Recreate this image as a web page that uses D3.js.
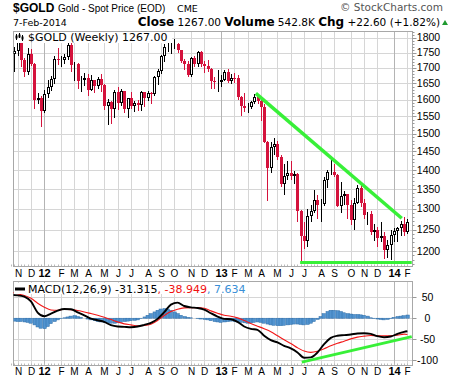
<!DOCTYPE html>
<html>
<head>
<meta charset="utf-8">
<script src="https://cdn.jsdelivr.net/npm/d3@7/dist/d3.min.js"></script>
<style>
  body { margin: 0; background: #fff; }
  svg { display: block; }
</style>
</head>
<body>
<div id="chart"></div>
<script>
// one bar per week, keyed by the Monday of the week
var weekStart = d3.timeMonday.range(new Date(2011, 9, 24), new Date(2014, 1, 4));

var opens = [
  1642,1744,1754,1788,1725,1685,1746,1712,1598,1606,
  1565,1617,1640,1664,1728,1725,1725,1735,1775,1710,
  1711,1658,1662,1668,1631,1660,1643,1663,1645,1580,
  1592,1573,1622,1590,1626,1572,1604,1580,1590,1583,
  1622,1604,1620,1616,1670,1690,1740,1768,1773,1776,
  1780,1757,1723,1711,1676,1731,1713,1751,1711,1705,
  1696,1657,1656,1656,1662,1687,1659,1668,1667,1609,
  1581,1576,1578,1592,1608,1597,1579,1476,1404,1461,
  1470,1435,1363,1385,1393,1383,1388,1296,1234,1222,
  1283,1295,1321,1310,1313,1373,1395,1395,1386,1308,
  1332,1337,1310,1272,1315,1352,1314,1286,1288,1243,
  1250,1230,1235,1203,1213,1237,1247,1254,1264,1244.4
];
var highs = [
  1760,1770,1802,1795,1731,1764,1762,1715,1620,1612,
  1630,1660,1675,1740,1764,1740,1745,1781,1792,1718,
  1716,1674,1684,1680,1678,1660,1669,1680,1648,1601,
  1595,1630,1640,1632,1626,1606,1625,1597,1598,1627,
  1623,1626,1625,1675,1695,1742,1777,1788,1781,1796,
  1782,1757,1727,1723,1735,1738,1755,1754,1723,1724,
  1699,1670,1694,1678,1694,1695,1680,1684,1676,1612,
  1619,1589,1597,1616,1614,1598,1588,1480,1476,1488,
  1478,1440,1415,1424,1424,1397,1392,1298,1267,1299,
  1310,1348,1334,1324,1380,1400,1434,1415,1388,1368,
  1345,1337,1323,1326,1361,1362,1324,1293,1294,1262,
  1256,1267,1244,1225,1248,1254,1256,1270,1280,1275
];
var lows = [
  1625,1690,1741,1705,1675,1680,1708,1575,1590,1523,
  1564,1607,1630,1652,1712,1707,1714,1730,1688,1662,
  1635,1627,1645,1613,1629,1625,1636,1628,1573,1527,
  1532,1547,1572,1585,1564,1548,1575,1565,1569,1570,
  1582,1598,1590,1614,1648,1684,1722,1756,1750,1765,
  1752,1718,1697,1673,1674,1705,1706,1705,1685,1690,
  1636,1636,1626,1643,1661,1654,1653,1655,1603,1555,
  1565,1562,1575,1590,1591,1539,1476,1321,1395,1444,
  1430,1359,1338,1375,1377,1365,1270,1180,1207,1211,
  1270,1292,1278,1270,1309,1355,1390,1385,1308,1292,
  1312,1277,1262,1251,1314,1306,1277,1262,1240,1226,
  1211,1224,1185,1187,1182,1222,1224,1236,1238,1241
];
var closes = [
  1744,1754,1788,1725,1685,1746,1712,1598,1606,1565,
  1617,1640,1664,1728,1725,1725,1735,1775,1710,1711,
  1658,1662,1668,1631,1660,1643,1663,1645,1580,1592,
  1573,1622,1590,1626,1572,1604,1580,1590,1583,1622,
  1604,1620,1616,1670,1690,1740,1768,1773,1776,1780,
  1757,1723,1711,1676,1731,1713,1751,1711,1705,1696,
  1657,1656,1656,1662,1687,1659,1668,1667,1609,1581,
  1576,1578,1592,1608,1597,1579,1476,1404,1461,1470,
  1435,1363,1385,1393,1383,1388,1296,1234,1222,1283,
  1295,1321,1310,1313,1373,1395,1395,1386,1308,1332,
  1337,1310,1272,1315,1352,1314,1286,1288,1243,1250,
  1230,1235,1203,1213,1237,1247,1254,1264,1244.4,1267
];

// MACD(12,26,9), lines read every second week
var macdWeek = d3.range(0, 120, 2).concat([119]);
var macdLine = [
  55.5,54.7,51.5,40,13.4,4.7,11,18.1,22.1,21.3,
  14.2,7,-0.8,-4.8,-8.8,-16.8,-20,-20.7,-21.5,-20,
  -16,-11.2,-1.6,14.3,32.5,37.3,29.2,26,24.5,20.6,
  11.8,4,-1.6,-2.4,-8.7,-19.8,-25.4,-27.8,-42,-52.5,
  -58,-66,-72.4,-81.9,-94.6,-93.8,-82,-62,-47,-42,
  -40.5,-39,-36.7,-35.9,-37.5,-43,-45.4,-43.8,-37.5,-32.7,
  -31.315
];
var signalLine = [
  62.6,58,54.3,47.6,35.7,26.2,19.8,19,21.4,20.6,
  18.3,15,11.1,7.1,2.3,-3.2,-8.8,-13.5,-15.9,-18.3,
  -17.5,-14.3,-5.6,6.3,15.9,21.4,24.6,25.4,25.4,23.8,
  17.5,11.9,7.1,4.8,0.8,-5.6,-12.7,-19,-25.4,-32.5,
  -42,-51.6,-60.3,-70.6,-78.6,-81.7,-79,-73,-66,-60,
  -55,-49.5,-45.2,-42.9,-41.3,-42.1,-42.1,-42.1,-40.5,-38.1,
  -38.949
];
// histogram, every week
var histogram = [
  -6,-7,-8,-8,-9,-10,-12,-16,-21,-24,
  -25,-20,-13,-8,-4,-1,1,3,5,6,
  4,2,0,-2,-4,-6,-8,-9,-10,-11,
  -12,-12,-11,-10,-8,-7,-6,-5,-4,-1,
  3,7,11,15,19,22,23,22,19,15,
  11,7,4,2,1,0,-1,-2,-3,-4,
  -6,-8,-9,-10,-9,-8,-7,-8,-9,-10,
  -11,-12,-11,-10,-9,-10,-12,-14,-16,-17,
  -18,-18,-17,-16,-15,-14,-14,-15,-16,-15,
  -12,-8,-3,4,11,16,19,19,18,16,
  13,11,10,9,9,8,7,5,1,-1,
  -2,-3,-4,-3,-1,2,4,5,6,7.634
];

var priceTicks = [1200,1250,1300,1350,1400,1450,1500,1550,1600,1650,1700,1750,1800];
var macdTicks = [50, 0, -50, -100];
var monthLetters = ["J","F","M","A","M","J","J","A","S","O","N","D"];

// hand drawn trend lines: [week index, value]
var resistance = [[73.5, 1619], [117.3, 1277]];
var support = [[86.8, 1174], [120.3, 1174]];
var macdTrend = [[87.3, -105], [120.3, -44]];

var W = 456, H = 381;
var pL = 13.5, pR = 412.5, pT = 31.5, pB = 266.5;
var mT = 281.5, mB = 365.5;
var red = "#d4123c", green = "#38f038";
var sans = "'Liberation Sans', Arial, sans-serif";
var verd = "'DejaVu Sans', Verdana, sans-serif";

var svg = d3.select("#chart").append("svg").attr("width", W).attr("height", H);
svg.append("rect").attr("width", W).attr("height", H).attr("fill", "#fff");

var x = d3.scaleLinear().domain([0, weekStart.length - 1]).range([11, 407.4]);
var y = d3.scaleLog().domain([1200, 1800]).range([251, 37.7]);
var ym = d3.scaleLinear().domain([-100, 50]).range([360, 297.3]);
var px = function(v){ return Math.round(v) + 0.5; };

var defs = svg.append("defs");
defs.append("clipPath").attr("id", "clipP").append("rect")
  .attr("x", pL).attr("y", pT).attr("width", pR - pL).attr("height", pB - pT);
defs.append("clipPath").attr("id", "clipM").append("rect")
  .attr("x", pL).attr("y", mT).attr("width", pR - pL).attr("height", mB - mT);

// first bar of every month
var monthIdx = [];
weekStart.forEach(function(d, i){
  if (i > 0 && d.getMonth() !== weekStart[i - 1].getMonth()) monthIdx.push(i);
});

// grids
function grid(top, bottom, yScale, ticks){
  var g = svg.append("g");
  g.selectAll(".h").data(ticks).enter().append("line")
    .attr("x1", pL).attr("x2", pR)
    .attr("y1", function(d){ return px(yScale(d)); })
    .attr("y2", function(d){ return px(yScale(d)); })
    .attr("stroke", "#d6d6d6");
  g.selectAll(".v").data(monthIdx).enter().append("line")
    .attr("x1", function(d){ return px(x(d)); })
    .attr("x2", function(d){ return px(x(d)); })
    .attr("y1", top).attr("y2", bottom)
    .attr("stroke", function(d){ return weekStart[d].getMonth() === 0 ? "#b4b4b4" : "#d6d6d6"; });
  // weekly ticks along the bottom
  g.selectAll(".t").data(d3.range(weekStart.length)).enter().append("line")
    .attr("x1", function(d){ return px(x(d)); })
    .attr("x2", function(d){ return px(x(d)); })
    .attr("y1", bottom - 2).attr("y2", bottom)
    .attr("stroke", "#bbb");
  g.append("rect").attr("x", pL).attr("y", top).attr("width", pR - pL).attr("height", bottom - top)
    .attr("fill", "none").attr("stroke", "#a8a8a8");
}
grid(pT, pB, y, priceTicks);
grid(mT, mB, ym, macdTicks);

// right axis ticks and labels
svg.append("g").selectAll("line").data(d3.range(1170, 1821, 10)).enter().append("line")
  .attr("x1", pR).attr("x2", function(d){ return d % 50 === 0 ? pR + 4 : pR + 2; })
  .attr("y1", function(d){ return px(y(d)); }).attr("y2", function(d){ return px(y(d)); })
  .attr("stroke", "#999");
svg.append("g").selectAll("text").data(priceTicks).enter().append("text")
  .attr("x", 428.5).attr("y", function(d){ return y(d) + 3.6; })
  .attr("text-anchor", "middle").attr("font-family", sans).attr("font-size", 10.5)
  .attr("fill", "#000").text(function(d){ return d; });
svg.append("g").selectAll("line").data(macdTicks).enter().append("line")
  .attr("x1", pR).attr("x2", pR + 4)
  .attr("y1", function(d){ return px(ym(d)); }).attr("y2", function(d){ return px(ym(d)); })
  .attr("stroke", "#999");
svg.append("g").selectAll("text").data(macdTicks).enter().append("text")
  .attr("x", 427.5).attr("y", function(d){ return ym(d) + 3.6; })
  .attr("text-anchor", "middle").attr("font-family", sans).attr("font-size", 10.5)
  .attr("fill", "#000").text(function(d){ return d; });

// month labels under both panels
[pB + 10, mB + 9].forEach(function(base){
  svg.append("g").selectAll("text").data(monthIdx).enter().append("text")
    .attr("x", function(d){ return px(x(d)); })
    .attr("y", base)
    .attr("text-anchor", "middle").attr("font-family", sans)
    .attr("font-size", function(d){ return weekStart[d].getMonth() === 0 ? 11 : 10; })
    .attr("font-weight", function(d){ return weekStart[d].getMonth() === 0 ? "bold" : "normal"; })
    .text(function(d){
      var dt = weekStart[d];
      return dt.getMonth() === 0 ? String(dt.getFullYear()).slice(2) : monthLetters[dt.getMonth()];
    });
});

// candles
var bars = d3.range(weekStart.length).map(function(i){
  return {i: i, o: opens[i], h: highs[i], l: lows[i], c: closes[i]};
});
var gc = svg.append("g").attr("clip-path", "url(#clipP)");
var candle = gc.selectAll(".candle").data(bars).enter().append("g").attr("class", "candle");
candle.append("line")
  .attr("x1", function(d){ return px(x(d.i)); })
  .attr("x2", function(d){ return px(x(d.i)); })
  .attr("y1", function(d){ return Math.round(y(d.h)); })
  .attr("y2", function(d){ return Math.round(y(d.l)) + 1; })
  .attr("stroke", function(d){ return d.c < d.o ? red : "#000"; });
candle.append("rect")
  .attr("x", function(d){ return d.c < d.o ? Math.round(x(d.i)) - 1 : Math.round(x(d.i)) - 0.5; })
  .attr("y", function(d){ var t = Math.round(y(Math.max(d.o, d.c))); return d.c < d.o ? t : t + 0.5; })
  .attr("width", function(d){ return d.c < d.o ? 3 : 2; })
  .attr("height", function(d){
    var h = Math.round(y(Math.min(d.o, d.c))) - Math.round(y(Math.max(d.o, d.c)));
    return d.c < d.o ? Math.max(1, h) : Math.max(0, h - 1);
  })
  .attr("fill", function(d){ return d.c < d.o ? red : "#fff"; })
  .attr("stroke", function(d){ return d.c < d.o ? "none" : "#000"; });

// trend lines on price
var priceLine = d3.line().x(function(d){ return x(d[0]); }).y(function(d){ return y(d[1]); });
svg.append("path").attr("d", priceLine(resistance)).attr("stroke", green).attr("stroke-width", 3.5).attr("fill", "none");
svg.append("path").attr("d", priceLine(support)).attr("stroke", green).attr("stroke-width", 3).attr("fill", "none");

// legend on price panel
svg.append("rect").attr("x", 14).attr("y", 32).attr("width", 158).attr("height", 11).attr("fill", "#fff");
var icon = svg.append("g");
[[16.5, 34, 40], [19.5, 33, 38], [22.5, 35, 41]].forEach(function(b){
  icon.append("line").attr("x1", b[0]).attr("x2", b[0]).attr("y1", b[1]).attr("y2", b[2]).attr("stroke", "#000");
  icon.append("rect").attr("x", b[0] - 1).attr("y", b[1] + 1.5).attr("width", 2).attr("height", 3).attr("fill", "#000");
});
svg.append("text").attr("x", 28).attr("y", 40.5)
  .attr("font-family", verd).attr("font-size", 11)
  .text("$GOLD (Weekly) 1267.00");

// MACD panel
var gm = svg.append("g").attr("clip-path", "url(#clipM)");
gm.selectAll(".hist").data(histogram).enter().append("rect")
  .attr("x", function(d, i){ return Math.round(x(i) - 1.67); })
  .attr("width", 3.33)
  .attr("y", function(d){ return Math.min(ym(0), ym(d)); })
  .attr("height", function(d){ return Math.abs(ym(d) - ym(0)); })
  .attr("fill", "#5294d0").attr("stroke", "#2f6ea8").attr("stroke-width", 0.5);
var mLine = d3.line().curve(d3.curveMonotoneX)
  .x(function(d, i){ return x(macdWeek[i]); }).y(function(d){ return ym(d); });
gm.append("path").attr("d", mLine(signalLine)).attr("stroke", "#f21818").attr("stroke-width", 1.1).attr("fill", "none");
gm.append("path").attr("d", mLine(macdLine)).attr("stroke", "#000").attr("stroke-width", 1.9).attr("fill", "none");
var macdLineGen = d3.line().x(function(d){ return x(d[0]); }).y(function(d){ return ym(d[1]); });
gm.append("path").attr("d", macdLineGen(macdTrend)).attr("stroke", green).attr("stroke-width", 3).attr("fill", "none");

svg.append("rect").attr("x", 14).attr("y", 283).attr("width", 240).attr("height", 11).attr("fill", "#fff");
svg.append("line").attr("x1", 15).attr("x2", 25).attr("y1", 289).attr("y2", 289).attr("stroke", "#000").attr("stroke-width", 3);
var ml = svg.append("text").attr("x", 28).attr("y", 293)
  .attr("font-family", verd).attr("font-size", 11);
ml.append("tspan").attr("fill", "#000").text("MACD(12,26,9) -31.315");
ml.append("tspan").attr("fill", "#f01010").text(", -38.949");
ml.append("tspan").attr("fill", "#3a8fd6").text(", 7.634");

// header
svg.append("text").attr("x", 13).attr("y", 12)
  .attr("font-family", sans).attr("font-size", 12).attr("font-weight", "bold")
  .text("$GOLD");
svg.append("text").attr("x", 58).attr("y", 12)
  .attr("font-family", sans).attr("font-size", 10)
  .text("Gold - Spot Price (EOD)");
svg.append("text").attr("x", 177).attr("y", 12)
  .attr("font-family", verd).attr("font-size", 9.5)
  .text("CME");
svg.append("text").attr("x", 443).attr("y", 11).attr("text-anchor", "end")
  .attr("font-family", verd).attr("font-size", 10.5)
  .attr("fill", "#555").text("\u00a9 StockCharts.com");
svg.append("text").attr("x", 13).attr("y", 26)
  .attr("font-family", verd).attr("font-size", 9.5)
  .text("7-Feb-2014");

var row = svg.append("text").attr("x", 440).attr("y", 26).attr("text-anchor", "end")
  .attr("font-family", verd).attr("font-size", 10.5);
[["Close", true], [" 1267.00 ", false], ["Volume", true], [" 542.8K ", false],
 ["Chg", true], [" +22.60 (+1.82%)", false]].forEach(function(p){
  row.append("tspan").attr("font-weight", p[1] ? "bold" : "normal")
    .attr("font-size", p[1] ? 12 : null)
    .attr("xml:space", "preserve").text(p[0]);
});
svg.append("path").attr("d", "M442,25 L448,25 L445,20 Z").attr("fill", "#1f9a2f");
</script>
</body>
</html>
